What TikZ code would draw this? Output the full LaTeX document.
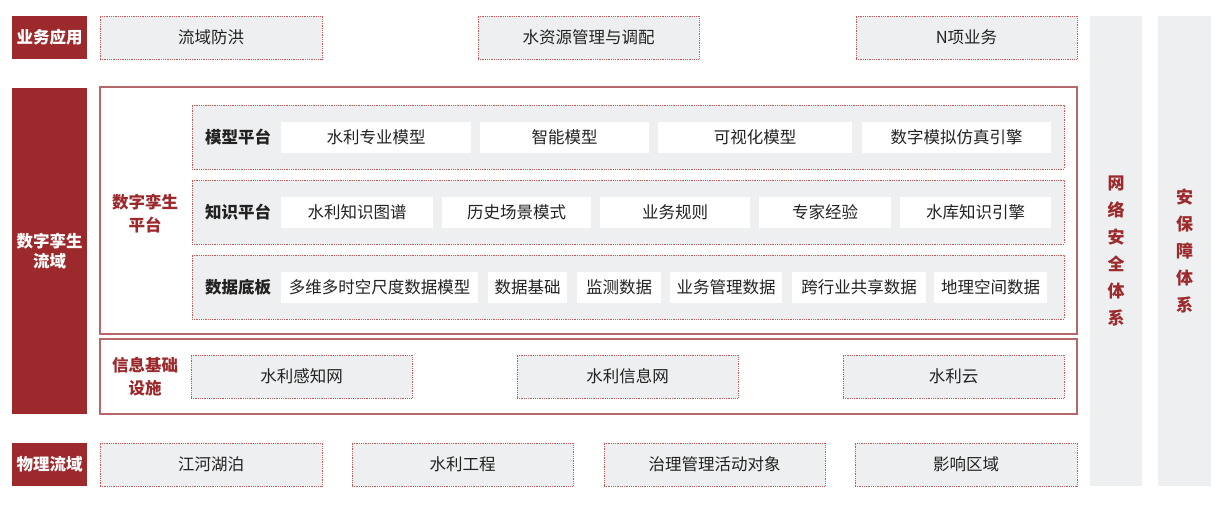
\documentclass[tikz,border=0pt]{standalone}
\usepackage{fontspec}
\setmainfont{Noto Sans CJK SC}
\usepackage{tikz}
\usetikzlibrary{positioning}
\definecolor{hong}{HTML}{9C2A2C}
\definecolor{huise}{HTML}{EEEFF0}
\definecolor{xian}{HTML}{C4575A}
\definecolor{kuang}{HTML}{B5676A}
\definecolor{zi}{HTML}{222222}

\tikzset{
  redtag/.style={fill=hong,text=white,font=\fontsize{16.5}{20}\selectfont\bfseries,inner sep=0pt,align=center},
  dashbox/.style={fill=huise,draw=xian,densely dotted,line width=0.8pt,text=zi,font=\fontsize{16.5}{20}\selectfont,inner sep=0pt},
  whitebox/.style={fill=white,text=zi,font=\fontsize{16.5}{20}\selectfont,inner sep=0pt},
  bigbox/.style={draw=kuang,line width=1.2pt,fill=white,inner sep=0pt},
  redtext/.style={text=hong,font=\fontsize{16.5}{23}\selectfont\bfseries,align=center},
  sidebar/.style={fill=huise,text=hong,font=\fontsize{17}{27}\selectfont\bfseries,align=center,inner sep=0pt}
}

\begin{document}
\begin{tikzpicture}[x=1pt,y=-1pt]
  \useasboundingbox (0,0) rectangle (1225,506);
  % left tags
  \node[redtag,minimum width=75pt,minimum height=43pt] (yw) at (49.5,37.5) {业务应用};
  \node[redtag,minimum width=75pt,minimum height=326pt] (lyz) at (49.5,251) {数字孪生\\流域};
  \node[redtag,minimum width=75pt,minimum height=43pt] (wl) at (49.5,464.5) {物理流域};
  % top row
  \foreach \a/\b/\t/\n in {100/322/流域防洪/fh,478/699/水资源管理与调配/szy,856/1077/N项业务/nx}
    {\node[dashbox,minimum width={(\b-\a)*1pt},minimum height=43pt] (\n) at ({(\a+\b)/2},37.5) {\t};}
  % platform frame
  \node[bigbox,minimum width=977pt,minimum height=247pt] (pt) at (588.5,210.5) {};
  \node[redtext] (ptl) at (145,214) {数字孪生\\平台};
  \foreach \yc/\t/\n in {137/模型平台/mx,212/知识平台/zs,287/数据底板/sj}
    {\node[dashbox,minimum width=872pt,minimum height=64pt] (\n) at (628,\yc) {};
     \node[text=zi,font=\fontsize{16.5}{20}\selectfont\bfseries] (\n l) at (238,\yc) {\t};}
  \foreach \a/\b/\t/\n in {281/471/水利专业模型/mx1,480/649/智能模型/mx2,658/852/可视化模型/mx3,862/1051/数字模拟仿真引擎/mx4}
    {\node[whitebox,minimum width={(\b-\a)*1pt},minimum height=31pt] (\n) at ({(\a+\b)/2},137.5) {\t};}
  \foreach \a/\b/\t/\n in {281/433/水利知识图谱/zs1,442/591/历史场景模式/zs2,600/750/业务规则/zs3,759/891/专家经验/zs4,900/1051/水库知识引擎/zs5}
    {\node[whitebox,minimum width={(\b-\a)*1pt},minimum height=31pt] (\n) at ({(\a+\b)/2},212.5) {\t};}
  \foreach \a/\b/\t/\n in {281/478/多维多时空尺度数据模型/sj1,488/567/数据基础/sj2,577/661/监测数据/sj3,670/782/业务管理数据/sj4,792/926/跨行业共享数据/sj5,934/1047/地理空间数据/sj6}
    {\node[whitebox,minimum width={(\b-\a)*1pt},minimum height=31pt] (\n) at ({(\a+\b)/2},287.5) {\t};}
  % infrastructure
  \node[bigbox,minimum width=977pt,minimum height=75pt] (jc) at (588.5,376.5) {};
  \node[redtext] (jcl) at (145,377) {信息基础\\设施};
  \foreach \a/\b/\t/\n in {191/412/水利感知网/gz,517/738/水利信息网/xx,843/1064/水利云/yun}
    {\node[dashbox,minimum width={(\b-\a)*1pt},minimum height=43pt] (\n) at ({(\a+\b)/2},376.5) {\t};}
  % bottom row
  \foreach \a/\b/\t/\n in {100/322/江河湖泊/jh,352/573/水利工程/gc,604/825/治理管理活动对象/zl,855/1077/影响区域/yx}
    {\node[dashbox,minimum width={(\b-\a)*1pt},minimum height=43pt] (\n) at ({(\a+\b)/2},464.5) {\t};}
  % side bars
  \node[sidebar,minimum width=52pt,minimum height=470pt] (aq) at (1116,251) {网\\络\\安\\全\\体\\系};
  \node[sidebar,minimum width=53pt,minimum height=470pt] (bz) at (1184.5,251) {安\\保\\障\\体\\系};
\end{tikzpicture}
\end{document}
